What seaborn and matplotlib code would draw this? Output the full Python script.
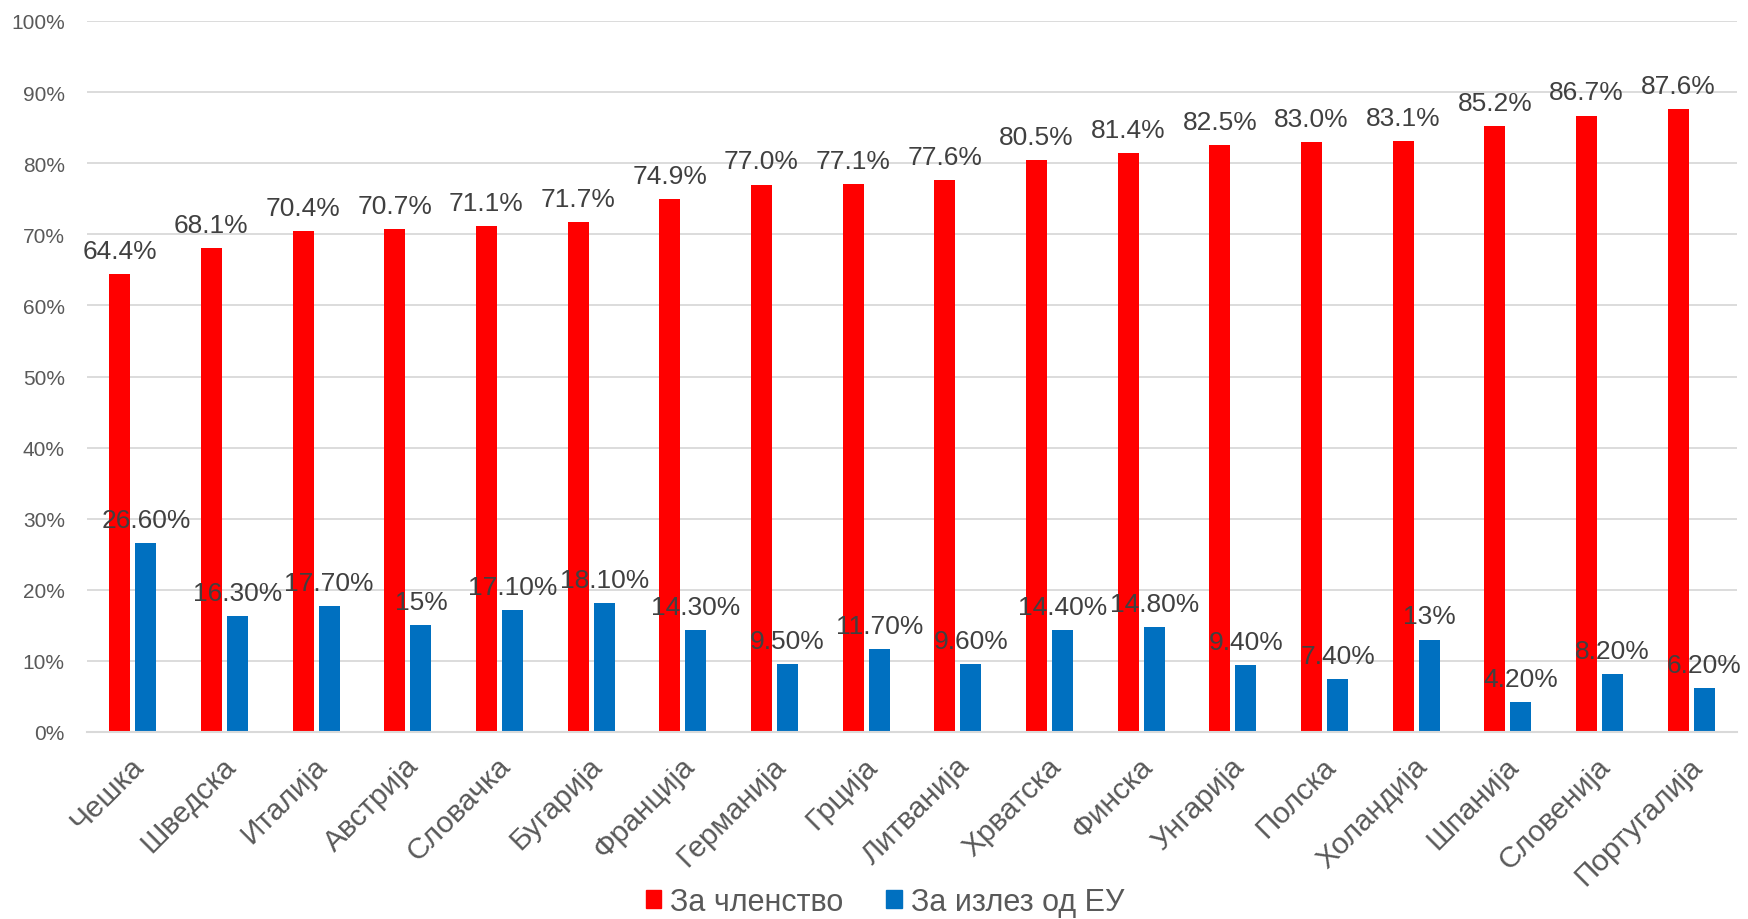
import pandas as pd
import numpy as np
import matplotlib
matplotlib.use('Agg')
from matplotlib import pyplot as plt
from matplotlib import transforms
import seaborn as sns

countries = ['Чешка', 'Шведска', 'Италија', 'Австрија', 'Словачка', 'Бугарија',
             'Франција', 'Германија', 'Грција', 'Литванија', 'Хрватска', 'Финска',
             'Унгарија', 'Полска', 'Холандија', 'Шпанија', 'Словенија', 'Португалија']
member = [64.4, 68.1, 70.4, 70.7, 71.1, 71.7, 74.9, 77.0, 77.1, 77.6,
          80.5, 81.4, 82.5, 83.0, 83.1, 85.2, 86.7, 87.6]
leave = [26.6, 16.3, 17.7, 15.0, 17.1, 18.1, 14.3, 9.5, 11.7, 9.6,
         14.4, 14.8, 9.4, 7.4, 13.0, 4.2, 8.2, 6.2]
member_lbl = ['64.4%', '68.1%', '70.4%', '70.7%', '71.1%', '71.7%', '74.9%', '77.0%', '77.1%',
              '77.6%', '80.5%', '81.4%', '82.5%', '83.0%', '83.1%', '85.2%', '86.7%', '87.6%']
leave_lbl = ['26.60%', '16.30%', '17.70%', '15%', '17.10%', '18.10%', '14.30%', '9.50%', '11.70%',
             '9.60%', '14.40%', '14.80%', '9.40%', '7.40%', '13%', '4.20%', '8.20%', '6.20%']
series = ['За членство', 'За излез од ЕУ']
colors = ['#FF0000', '#0070C0']

df = pd.DataFrame({
    'country': countries * 2,
    'value': member + leave,
    'series': [series[0]] * len(countries) + [series[1]] * len(countries),
})

sns.set_style('white')
plt.rcParams['font.family'] = ['Liberation Sans', 'DejaVu Sans']

fig = plt.figure(figsize=(17.48, 9.2), dpi=100)
ax = fig.add_axes([87 / 1748, 1 - 733 / 920, 1650 / 1748, 711 / 920])

sns.barplot(data=df, x='country', y='value', hue='series', palette=colors,
            saturation=1, width=0.57, gap=0.2, linewidth=0, ax=ax)

ax.set_ylim(0, 100)
ax.set_yticks(np.arange(0, 101, 10))
ax.set_yticklabels([f'{v}%' for v in range(0, 101, 10)])
ax.set_xlabel('')
ax.set_ylabel('')

ax.yaxis.grid(True, color='#d9d9d9', lw=1.3)
ax.set_axisbelow(True)
for s in ['left', 'right', 'top']:
    ax.spines[s].set_visible(False)
ax.spines['bottom'].set_color('#d9d9d9')
ax.spines['bottom'].set_linewidth(1.5)
ax.tick_params(axis='both', length=0)
ax.tick_params(axis='y', labelsize=15, labelcolor='#595959', pad=16)
ax.tick_params(axis='x', labelsize=21.5, labelcolor='#595959', pad=14)

# shift rotated country labels a bit left, like the original
offset = transforms.ScaledTranslation(-3 / 100, 0, fig.dpi_scale_trans)
for lab in ax.get_xticklabels():
    lab.set_rotation(45)
    lab.set_ha('right')
    lab.set_va('top')
    lab.set_rotation_mode('anchor')
    lab.set_transform(lab.get_transform() + offset)

for cont, lbls in zip(ax.containers, [member_lbl, leave_lbl]):
    ax.bar_label(cont, labels=lbls, padding=8, fontsize=19, color='#404040')

ax.get_legend().remove()
handles = [plt.Rectangle((0, 0), 1, 1, color=c) for c in colors]
fig.legend(handles, series, loc='center', bbox_to_anchor=(885 / 1748, 1 - 903 / 920),
           ncol=2, frameon=False, fontsize=22, labelcolor='#595959',
           handlelength=0.5, handleheight=0.5, handletextpad=0.3, columnspacing=1.4)

fig.savefig('out.png', dpi=100)
